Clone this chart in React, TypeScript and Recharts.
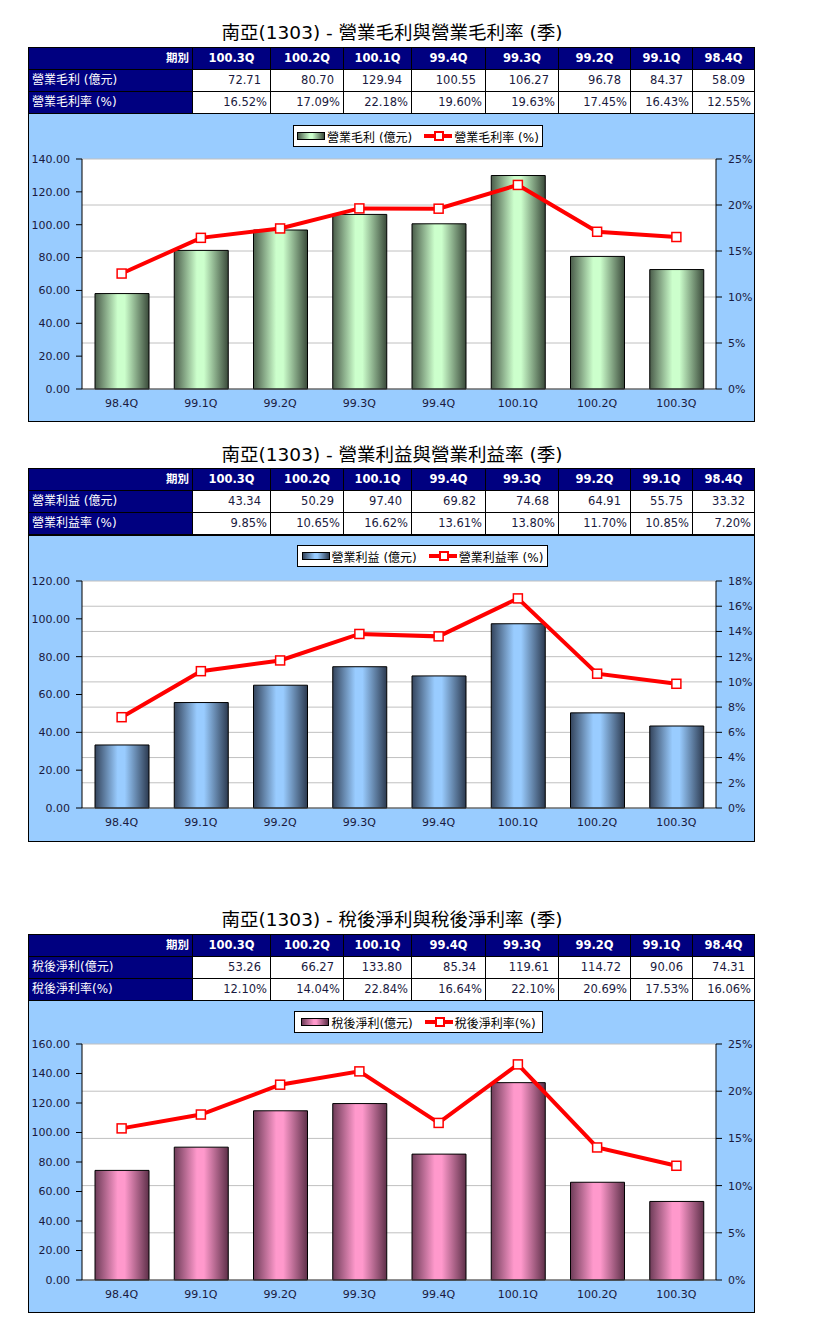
import React from 'react';
import { ComposedChart, Bar, Line, XAxis, YAxis, CartesianGrid } from 'recharts';

// ---------- data ----------
const quarters = ['98.4Q', '99.1Q', '99.2Q', '99.3Q', '99.4Q', '100.1Q', '100.2Q', '100.3Q'];
const tableQuarters = ['100.3Q', '100.2Q', '100.1Q', '99.4Q', '99.3Q', '99.2Q', '99.1Q', '98.4Q'];

const grossProfit = [58.09, 84.37, 96.78, 106.27, 100.55, 129.94, 80.7, 72.71];
const grossMargin = [12.55, 16.43, 17.45, 19.63, 19.6, 22.18, 17.09, 16.52];

const opIncome = [33.32, 55.75, 64.91, 74.68, 69.82, 97.4, 50.29, 43.34];
const opMargin = [7.2, 10.85, 11.7, 13.8, 13.61, 16.62, 10.65, 9.85];

const netIncome = [74.31, 90.06, 114.72, 119.61, 85.34, 133.8, 66.27, 53.26];
const netMargin = [16.06, 17.53, 20.69, 22.1, 16.64, 22.84, 14.04, 12.1];

const ticksLeft1 = [0, 20, 40, 60, 80, 100, 120, 140];
const ticksRight1 = [0, 5, 10, 15, 20, 25];
const ticksLeft2 = [0, 20, 40, 60, 80, 100, 120];
const ticksRight2 = [0, 2, 4, 6, 8, 10, 12, 14, 16, 18];
const ticksLeft3 = [0, 20, 40, 60, 80, 100, 120, 140, 160];
const ticksRight3 = [0, 5, 10, 15, 20, 25];

// ---------- layout ----------
const colEdges = [28, 192, 270, 343, 411, 485, 558, 630, 692, 754];
const BOX_LEFT = 28;
const BOX_W = 727;
const LATIN = '"DejaVu Sans", "Noto Sans CJK TC", sans-serif';

type Theme = { edge: string; mid: string; edge2: string };
const greenTheme: Theme = { edge: '#4a5c4a', mid: '#ccffcc', edge2: '#3a4a3a' };
const blueTheme: Theme = { edge: '#34445c', mid: '#99ccff', edge2: '#2c3a50' };
const pinkTheme: Theme = { edge: '#6e3c58', mid: '#ff99cc', edge2: '#5e3049' };

const SquareDot = (props: any) => {
  const { cx, cy } = props;
  if (cx == null || cy == null) return null;
  return <rect x={cx - 4.5} y={cy - 4.5} width={9} height={9} fill="#ffffff" stroke="#ff0000" strokeWidth={1.5} />;
};

type PanelProps = {
  id: string;
  title: string;
  titleTop: number;
  tableTop: number;
  chartTop: number;
  chartH: number;
  mTop: number;
  mBottom: number;
  rowLabels: [string, string];
  barName: string;
  lineName: string;
  values: number[];
  rates: number[];
  leftTicks: number[];
  rightTicks: number[];
  theme: Theme;
  legendLeft: number;
  legendTop: number;
  legendW: number;
};

function Panel(p: PanelProps) {
  const data = quarters.map((q, i) => ({ q, v: p.values[i], r: p.rates[i] }));
  const tableVals = tableQuarters.map((q) => p.values[quarters.indexOf(q)]);
  const tableRates = tableQuarters.map((q) => p.rates[quarters.indexOf(q)]);
  const gradId = `grad-${p.id}`;
  const rowH = 22;

  const cells: React.ReactNode[] = [];
  for (let r = 0; r < 3; r++) {
    for (let c = 0; c < colEdges.length - 1; c++) {
      const left = colEdges[c];
      const width = colEdges[c + 1] - colEdges[c] + 1;
      const top = p.tableTop + r * rowH;
      const navy = r === 0 || c === 0;
      let text = '';
      let align: 'left' | 'right' | 'center' = 'right';
      let bold = false;
      let pr = 3;
      if (r === 0) {
        bold = true;
        if (c === 0) { text = '期別'; align = 'right'; }
        else { text = tableQuarters[c - 1]; align = 'center'; }
      } else if (c === 0) {
        text = p.rowLabels[r - 1];
        align = 'left';
      } else if (r === 1) {
        text = tableVals[c - 1].toFixed(2);
        pr = 9;
      } else {
        text = tableRates[c - 1].toFixed(2) + '%';
        pr = 3;
      }
      cells.push(
        <div
          key={`${r}-${c}`}
          style={{
            position: 'absolute',
            left,
            top,
            width,
            height: rowH + 1,
            boxSizing: 'border-box',
            border: '1px solid #000',
            background: navy ? '#000080' : '#ffffff',
            color: navy ? '#ffffff' : '#1a1a40',
            fontFamily: LATIN,
            fontSize: c === 0 && r > 0 ? 12 : 11.5,
            fontWeight: bold ? 'bold' : 'normal',
            textAlign: align,
            lineHeight: `${rowH - 1}px`,
            paddingLeft: 3,
            paddingRight: pr,
            whiteSpace: 'nowrap',
            overflow: 'hidden',
          }}
        >
          {text}
        </div>
      );
    }
  }

  const barGradCss = `linear-gradient(to right, ${p.theme.edge}, ${p.theme.mid} 45%, ${p.theme.mid} 55%, ${p.theme.edge2})`;
  const tickStyle = { fontSize: 11, fill: '#1a1a40', fontFamily: LATIN };

  return (
    <>
      <div
        style={{
          position: 'absolute',
          left: 0,
          width: 784,
          top: p.titleTop,
          height: 24,
          lineHeight: '24px',
          textAlign: 'center',
          fontFamily: LATIN,
          fontSize: 18.5,
          color: '#000',
          whiteSpace: 'nowrap',
        }}
      >
        {p.title}
      </div>
      {cells}
      <div
        style={{
          position: 'absolute',
          left: BOX_LEFT,
          top: p.chartTop,
          width: BOX_W,
          height: p.chartH,
          background: '#99ccff',
          border: '1px solid #000',
          boxSizing: 'border-box',
        }}
      />
      <div style={{ position: 'absolute', left: BOX_LEFT, top: p.chartTop }}>
        <ComposedChart
          width={BOX_W}
          height={p.chartH}
          data={data}
          margin={{ top: p.mTop, right: 0, left: 0, bottom: 0 }}
        >
          <defs>
            <linearGradient id={gradId} x1="0" y1="0" x2="1" y2="0">
              <stop offset="0%" stopColor={p.theme.edge} />
              <stop offset="42%" stopColor={p.theme.mid} />
              <stop offset="55%" stopColor={p.theme.mid} />
              <stop offset="100%" stopColor={p.theme.edge2} />
            </linearGradient>
          </defs>
          <CartesianGrid yAxisId="right" vertical={false} stroke="#c0c0c0" fill="#ffffff" fillOpacity={1} />
          <XAxis
            dataKey="q"
            height={p.mBottom}
            tickLine={false}
            tickSize={0}
            tickMargin={10}
            axisLine={{ stroke: '#404040' }}
            tick={tickStyle}
            interval={0}
          />
          <YAxis
            yAxisId="left"
            orientation="left"
            width={54}
            domain={[p.leftTicks[0], p.leftTicks[p.leftTicks.length - 1]]}
            ticks={p.leftTicks}
            tickFormatter={(v: number) => v.toFixed(2)}
            tickSize={6}
            tickMargin={6}
            axisLine={{ stroke: '#000' }}
            tickLine={{ stroke: '#000' }}
            tick={tickStyle}
            interval={0}
          />
          <YAxis
            yAxisId="right"
            orientation="right"
            width={39}
            domain={[p.rightTicks[0], p.rightTicks[p.rightTicks.length - 1]]}
            ticks={p.rightTicks}
            tickFormatter={(v: number) => `${v}%`}
            tickSize={6}
            tickMargin={6}
            axisLine={{ stroke: '#000' }}
            tickLine={{ stroke: '#000' }}
            tick={tickStyle}
            interval={0}
          />
          <Bar
            yAxisId="left"
            dataKey="v"
            barSize={54}
            fill={`url(#${gradId})`}
            stroke="#000"
            strokeWidth={1}
            isAnimationActive={false}
          />
          <Line
            yAxisId="right"
            type="linear"
            dataKey="r"
            stroke="#ff0000"
            strokeWidth={4}
            dot={<SquareDot />}
            activeDot={false}
            isAnimationActive={false}
          />
        </ComposedChart>
      </div>
      <div
        style={{
          position: 'absolute',
          left: BOX_LEFT + p.legendLeft,
          top: p.chartTop + p.legendTop,
          width: p.legendW,
          height: 22,
          boxSizing: 'border-box',
          background: '#fff',
          border: '1px solid #000',
          display: 'flex',
          alignItems: 'center',
          justifyContent: 'center',
          fontFamily: LATIN,
          fontSize: 12,
          color: '#000',
          whiteSpace: 'nowrap',
        }}
      >
        <span
          style={{
            display: 'inline-block',
            width: 26,
            height: 6,
            border: '1px solid #000',
            background: barGradCss,
            marginRight: 2,
          }}
        />
        <span style={{ marginRight: 12 }}>{p.barName}</span>
        <span style={{ position: 'relative', display: 'inline-block', width: 28, height: 10, marginRight: 2 }}>
          <span style={{ position: 'absolute', left: 0, top: 3, width: 28, height: 4, background: '#ff0000' }} />
          <span
            style={{
              position: 'absolute',
              left: 10,
              top: 0,
              width: 6,
              height: 6,
              background: '#fff',
              border: '2px solid #ff0000',
            }}
          />
        </span>
        <span>{p.lineName}</span>
      </div>
    </>
  );
}

export default function App() {
  return (
    <div style={{ position: 'absolute', left: 0, top: 0, width: 818, height: 1330, background: '#fff' }}>
      <Panel
        id="p1"
        title="南亞(1303) - 營業毛利與營業毛利率 (季)"
        titleTop={21}
        tableTop={47}
        chartTop={113}
        chartH={309}
        mTop={46}
        mBottom={33}
        rowLabels={['營業毛利 (億元)', '營業毛利率 (%)']}
        barName="營業毛利 (億元)"
        lineName="營業毛利率 (%)"
        values={grossProfit}
        rates={grossMargin}
        leftTicks={ticksLeft1}
        rightTicks={ticksRight1}
        theme={greenTheme}
        legendLeft={265}
        legendTop={12}
        legendW={250}
      />
      <Panel
        id="p2"
        title="南亞(1303) - 營業利益與營業利益率 (季)"
        titleTop={443}
        tableTop={468}
        chartTop={535}
        chartH={307}
        mTop={46}
        mBottom={34}
        rowLabels={['營業利益 (億元)', '營業利益率 (%)']}
        barName="營業利益 (億元)"
        lineName="營業利益率 (%)"
        values={opIncome}
        rates={opMargin}
        leftTicks={ticksLeft2}
        rightTicks={ticksRight2}
        theme={blueTheme}
        legendLeft={269}
        legendTop={10}
        legendW={251}
      />
      <Panel
        id="p3"
        title="南亞(1303) - 稅後淨利與稅後淨利率 (季)"
        titleTop={908}
        tableTop={934}
        chartTop={1000}
        chartH={313}
        mTop={44}
        mBottom={33}
        rowLabels={['稅後淨利(億元)', '稅後淨利率(%)']}
        barName="稅後淨利(億元)"
        lineName="稅後淨利率(%)"
        values={netIncome}
        rates={netMargin}
        leftTicks={ticksLeft3}
        rightTicks={ticksRight3}
        theme={pinkTheme}
        legendLeft={266}
        legendTop={11}
        legendW={249}
      />
    </div>
  );
}
